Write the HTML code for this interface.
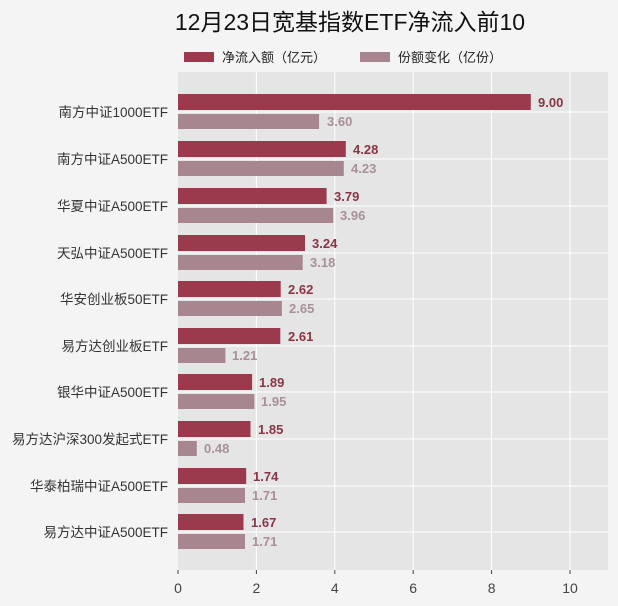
<!DOCTYPE html>
<html><head><meta charset="utf-8"><style>
html,body{margin:0;padding:0;background:#f4f4f4;}
svg{display:block;font-family:"Liberation Sans","Noto Sans CJK SC",sans-serif;}
</style></head><body>
<svg width="618" height="606" xmlns="http://www.w3.org/2000/svg">
<rect width="618" height="606" fill="#f4f4f4"/>
<text x="350" y="30" font-size="23" text-anchor="middle" fill="#111">12月23日宽基指数ETF净流入前10</text>
<rect x="184" y="52" width="30" height="10" fill="#9b3a4c"/>
<text x="222" y="62" font-size="13" fill="#222">净流入额（亿元）</text>
<rect x="360" y="52" width="30" height="10" fill="#a88690"/>
<text x="398" y="62" font-size="13" fill="#222">份额变化（亿份）</text>
<rect x="178" y="72" width="430" height="498" fill="#e5e5e5"/>
<g stroke="#ffffff" stroke-width="1">
<line x1="256.4" y1="72" x2="256.4" y2="570"/><line x1="334.8" y1="72" x2="334.8" y2="570"/>
<line x1="413.2" y1="72" x2="413.2" y2="570"/><line x1="491.6" y1="72" x2="491.6" y2="570"/>
<line x1="570" y1="72" x2="570" y2="570"/>
<line x1="178" y1="112" x2="608" y2="112"/><line x1="178" y1="159" x2="608" y2="159"/><line x1="178" y1="206" x2="608" y2="206"/><line x1="178" y1="253" x2="608" y2="253"/><line x1="178" y1="299" x2="608" y2="299"/><line x1="178" y1="346" x2="608" y2="346"/><line x1="178" y1="392" x2="608" y2="392"/><line x1="178" y1="439" x2="608" y2="439"/><line x1="178" y1="486" x2="608" y2="486"/><line x1="178" y1="532" x2="608" y2="532"/>
</g>
<g font-size="14" fill="#444" text-anchor="middle">
<text x="178" y="593">0</text><text x="256.4" y="593">2</text><text x="334.8" y="593">4</text>
<text x="413.2" y="593">6</text><text x="491.6" y="593">8</text><text x="570" y="593">10</text>
</g>
<g stroke="#444"><line x1="178" y1="570" x2="178" y2="574"/><line x1="256.4" y1="570" x2="256.4" y2="574"/><line x1="334.8" y1="570" x2="334.8" y2="574"/><line x1="413.2" y1="570" x2="413.2" y2="574"/><line x1="491.6" y1="570" x2="491.6" y2="574"/><line x1="570" y1="570" x2="570" y2="574"/></g>
<g font-size="13.5" fill="#333" text-anchor="end">
<text x="168" y="117">南方中证1000ETF</text>
<text x="168" y="164">南方中证A500ETF</text>
<text x="168" y="211">华夏中证A500ETF</text>
<text x="168" y="258">天弘中证A500ETF</text>
<text x="168" y="304">华安创业板50ETF</text>
<text x="168" y="351">易方达创业板ETF</text>
<text x="168" y="397">银华中证A500ETF</text>
<text x="168" y="444">易方达沪深300发起式ETF</text>
<text x="168" y="491">华泰柏瑞中证A500ETF</text>
<text x="168" y="537">易方达中证A500ETF</text>
</g>
<g font-size="13" font-weight="bold">
<rect x="178" y="94" width="352.8" height="16" fill="#9b3a4c"/><text x="538" y="107" fill="#8b3445">9.00</text>
<rect x="178" y="114" width="141.1" height="15" fill="#a88690"/><text x="327" y="126" fill="#a8909a">3.60</text>
<rect x="178" y="141" width="167.8" height="16" fill="#9b3a4c"/><text x="353" y="154" fill="#8b3445">4.28</text>
<rect x="178" y="161" width="165.8" height="15" fill="#a88690"/><text x="351" y="173" fill="#a8909a">4.23</text>
<rect x="178" y="188" width="148.6" height="16" fill="#9b3a4c"/><text x="334" y="201" fill="#8b3445">3.79</text>
<rect x="178" y="208" width="155.2" height="15" fill="#a88690"/><text x="340" y="220" fill="#a8909a">3.96</text>
<rect x="178" y="235" width="127" height="16" fill="#9b3a4c"/><text x="312" y="248" fill="#8b3445">3.24</text>
<rect x="178" y="255" width="124.7" height="15" fill="#a88690"/><text x="310" y="267" fill="#a8909a">3.18</text>
<rect x="178" y="281" width="102.7" height="16" fill="#9b3a4c"/><text x="288" y="294" fill="#8b3445">2.62</text>
<rect x="178" y="301" width="103.9" height="15" fill="#a88690"/><text x="289" y="313" fill="#a8909a">2.65</text>
<rect x="178" y="328" width="102.3" height="16" fill="#9b3a4c"/><text x="288" y="341" fill="#8b3445">2.61</text>
<rect x="178" y="348" width="47.4" height="15" fill="#a88690"/><text x="232" y="360" fill="#a8909a">1.21</text>
<rect x="178" y="374" width="74.1" height="16" fill="#9b3a4c"/><text x="259" y="387" fill="#8b3445">1.89</text>
<rect x="178" y="394" width="76.4" height="15" fill="#a88690"/><text x="261" y="406" fill="#a8909a">1.95</text>
<rect x="178" y="421" width="72.5" height="16" fill="#9b3a4c"/><text x="258" y="434" fill="#8b3445">1.85</text>
<rect x="178" y="441" width="18.8" height="15" fill="#a88690"/><text x="204" y="453" fill="#a8909a">0.48</text>
<rect x="178" y="468" width="68.2" height="16" fill="#9b3a4c"/><text x="253" y="481" fill="#8b3445">1.74</text>
<rect x="178" y="488" width="67" height="15" fill="#a88690"/><text x="252" y="500" fill="#a8909a">1.71</text>
<rect x="178" y="514" width="65.5" height="16" fill="#9b3a4c"/><text x="251" y="527" fill="#8b3445">1.67</text>
<rect x="178" y="534" width="67" height="15" fill="#a88690"/><text x="252" y="546" fill="#a8909a">1.71</text>
</g>
</svg>
</body></html>
